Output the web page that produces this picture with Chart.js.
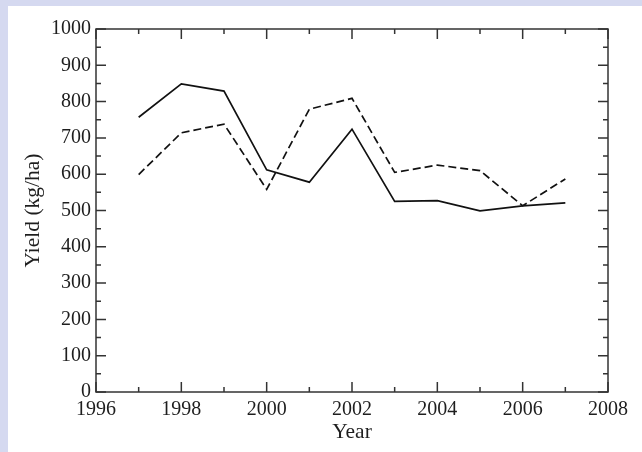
<!DOCTYPE html>
<html lang="en">
<head>
    <meta charset="UTF-8">
    <title>Yield by Year</title>
    <script src="https://cdn.jsdelivr.net/npm/chart.js"></script>
    <style>
        body {
            margin: 0;
            background: #ffffff;
            width: 642px;
            height: 452px;
            overflow: hidden;
            position: relative;
        }
        .stripe-top {
            position: absolute;
            left: 0; top: 0;
            width: 642px; height: 6px;
            background: #d5d9f0;
        }
        .stripe-left {
            position: absolute;
            left: 0; top: 0;
            width: 8px; height: 452px;
            background: #d5d9f0;
        }
        #chartBox {
            position: absolute;
            left: 8px; top: 6px;
            width: 626px; height: 446px;
            overflow: hidden;
        }
    </style>
</head>
<body>
    <div class="stripe-top"></div>
    <div class="stripe-left"></div>
    <div id="chartBox">
        <canvas id="yieldChart"></canvas>
    </div>

    <script>
        // values
        const years = [1997, 1998, 1999, 2000, 2001, 2002, 2003, 2004, 2005, 2006, 2007];
        const solidYield = [757, 849, 829, 612, 578, 724, 525, 527, 499, 513, 521];
        const dashedYield = [599, 714, 738, 558, 779, 809, 605, 625, 610, 513, 587];
        const yearTicks = [1996, 1998, 2000, 2002, 2004, 2006, 2008];
        const yieldTicks = [0, 100, 200, 300, 400, 500, 600, 700, 800, 900, 1000];

        const ink = '#1e1e1e';
        Chart.defaults.font.family = "'Liberation Serif', 'DejaVu Serif', serif";
        Chart.defaults.color = ink;

        // box frame + inward ticks on all four sides
        const boxTicks = {
            id: 'boxTicks',
            afterDraw(chart) {
                const { ctx, chartArea: a, scales: { x, y } } = chart;
                ctx.save();
                ctx.strokeStyle = '#333333';
                ctx.lineWidth = 1.5;
                ctx.strokeRect(a.left, a.top, a.right - a.left, a.bottom - a.top);
                ctx.beginPath();
                x.ticks.forEach(t => {
                    const px = x.getPixelForValue(t.value);
                    const len = yearTicks.includes(t.value) ? 10 : 5;
                    ctx.moveTo(px, a.bottom); ctx.lineTo(px, a.bottom - len);
                    ctx.moveTo(px, a.top); ctx.lineTo(px, a.top + len);
                });
                y.ticks.forEach(t => {
                    const py = y.getPixelForValue(t.value);
                    const len = yieldTicks.includes(t.value) ? 10 : 5;
                    ctx.moveTo(a.left, py); ctx.lineTo(a.left + len, py);
                    ctx.moveTo(a.right, py); ctx.lineTo(a.right - len, py);
                });
                ctx.stroke();
                ctx.restore();
            }
        };

        const ctx = document.getElementById('yieldChart').getContext('2d');
        const yieldChart = new Chart(ctx, {
            type: 'line',
            data: {
                datasets: [{
                    label: 'Solid',
                    data: years.map((yr, i) => ({ x: yr, y: solidYield[i] })),
                    borderColor: '#111111',
                    borderWidth: 1.7,
                    pointRadius: 0,
                    tension: 0,
                },
                {
                    label: 'Dashed',
                    data: years.map((yr, i) => ({ x: yr, y: dashedYield[i] })),
                    borderColor: '#111111',
                    borderWidth: 1.7,
                    borderDash: [8, 4],
                    pointRadius: 0,
                    tension: 0,
                }],
            },
            options: {
                responsive: true,
                maintainAspectRatio: false,
                animation: false,
                layout: {
                    padding: { left: 0, right: 21, top: 23, bottom: 0 }
                },
                plugins: {
                    legend: { display: false },
                    tooltip: { enabled: false }
                },
                scales: {
                    x: {
                        type: 'linear',
                        min: 1996,
                        max: 2008,
                        afterFit: scale => { scale.height = 60; },
                        grid: { display: false, drawTicks: false },
                        border: { display: false },
                        ticks: {
                            stepSize: 1,
                            autoSkip: false,
                            maxRotation: 0,
                            padding: 6,
                            font: { size: 20 },
                            color: ink,
                            callback: v => yearTicks.includes(v) ? String(v) : ''
                        },
                        title: {
                            display: true,
                            text: 'Year',
                            font: { size: 21.5 },
                            color: ink,
                            padding: { top: 0, bottom: 7 }
                        }
                    },
                    y: {
                        min: 0,
                        max: 1000,
                        afterFit: scale => { scale.width = 88; },
                        grid: { display: false, drawTicks: false },
                        border: { display: false },
                        ticks: {
                            stepSize: 50,
                            autoSkip: false,
                            padding: 5,
                            font: { size: 20 },
                            color: ink,
                            callback: v => yieldTicks.includes(v) ? String(v) : ''
                        },
                        title: {
                            display: true,
                            text: 'Yield (kg/ha)',
                            font: { size: 21.5 },
                            color: ink,
                            padding: { top: 12, bottom: 0 }
                        }
                    }
                }
            },
            plugins: [boxTicks]
        });
    </script>
</body>
</html>
